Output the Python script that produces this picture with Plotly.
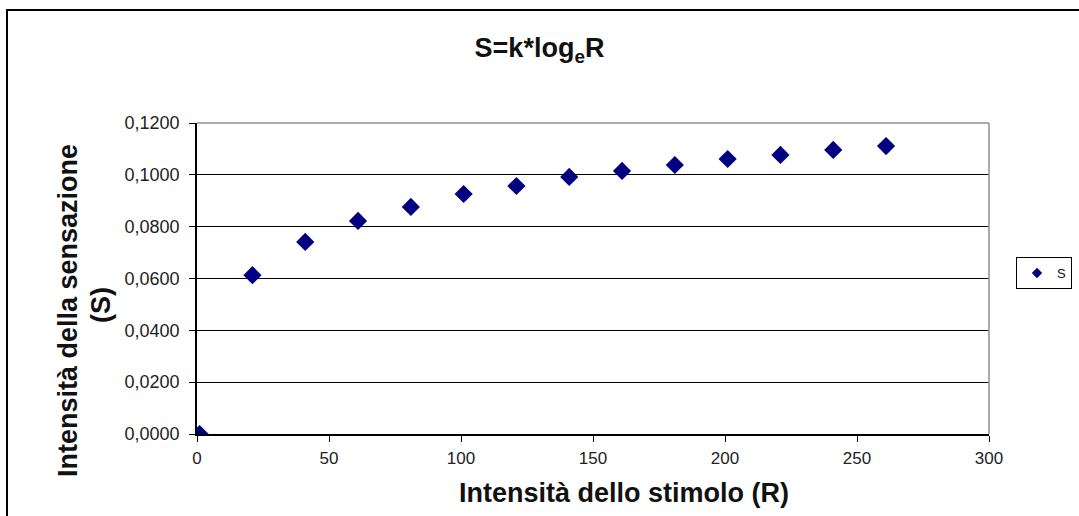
import plotly.graph_objects as go

R_values = [1, 21, 41, 61, 81, 101, 121, 141, 161, 181, 201, 221, 241, 261]
S_values = [0.0000, 0.0613, 0.0741, 0.0822, 0.0876, 0.0926, 0.0957, 0.0992,
            0.1015, 0.1038, 0.1061, 0.1077, 0.1096, 0.1111]
series_name = "S"
title_text = "S=k*log<sub>e</sub>R"
x_title = "Intensità dello stimolo (R)"
y_title_line1 = "Intensità della sensazione"
y_title_line2 = "(S)"
x_ticks = [0, 50, 100, 150, 200, 250, 300]
y_ticks = [0.0, 0.02, 0.04, 0.06, 0.08, 0.10, 0.12]

FONT = "Liberation Sans, Arial, sans-serif"
NAVY = "#000080"

fig = go.Figure()
fig.add_trace(go.Scatter(
    x=R_values, y=S_values, mode="markers", name=series_name,
    showlegend=False,
    marker=dict(symbol="diamond", size=14, color=NAVY, line=dict(width=0)),
))
# legend entry with a small marker, like the reference
fig.add_trace(go.Scatter(
    x=[None], y=[None], mode="markers", name=series_name, showlegend=True,
    marker=dict(symbol="diamond", size=8, color=NAVY, line=dict(width=0)),
))

fig.update_layout(
    width=1079, height=516,
    margin=dict(l=197, r=90, t=123, b=82, autoexpand=False),
    paper_bgcolor="white", plot_bgcolor="white",
    separators=",.",
    font=dict(family=FONT, color="#111111", size=14),
    title=dict(text=title_text, x=0.5, xref="container", xanchor="center",
               y=1 - 48 / 516, yref="container", yanchor="middle",
               font=dict(family=FONT, size=27, color="#111111", weight="bold")),
    showlegend=True,
    legend=dict(x=(1016 - 197) / 792, xanchor="left",
                y=(434 - 273) / 311, yanchor="middle",
                bordercolor="#000000", borderwidth=1,
                font=dict(size=13, family=FONT, color="#111111"),
                itemwidth=30, tracegroupgap=0),
    xaxis=dict(range=[0, 300], tickvals=x_ticks, ticks="outside", ticklen=6,
               tickcolor="#000000", showline=True, linecolor="#000000",
               linewidth=1.5, showgrid=False, zeroline=False,
               ticklabelstandoff=2,
               tickfont=dict(size=17, family=FONT, color="#222222")),
    yaxis=dict(range=[0, 0.12], tickvals=y_ticks, tickformat=".4f",
               ticks="outside", ticklen=6, tickcolor="#000000",
               showline=True, linecolor="#000000", linewidth=1.5,
               showgrid=True, gridcolor="#000000", gridwidth=1.2,
               zeroline=False, ticklabelstandoff=6,
               tickfont=dict(size=18, family=FONT, color="#222222")),
)

# gray top/right plot border
fig.add_shape(type="line", xref="paper", yref="paper", x0=0, x1=1, y0=1, y1=1,
              line=dict(color="#909090", width=1.5), layer="above")
fig.add_shape(type="line", xref="paper", yref="paper", x0=1, x1=1, y0=0, y1=1,
              line=dict(color="#909090", width=1.5), layer="above")

# outer chart frame
fig.add_shape(type="rect", xref="paper", yref="paper",
              x0=(7 - 197) / 792, x1=1.3, y0=(434 - 560) / 311,
              y1=1 + (123 - 10) / 311,
              line=dict(color="#000000", width=2), layer="below")

# axis titles
fig.add_annotation(text=x_title, xref="paper", yref="paper",
                   x=(624 - 197) / 792, y=(434 - 493) / 311,
                   showarrow=False, xanchor="center", yanchor="middle",
                   font=dict(size=27, family=FONT, color="#111111", weight="bold"))
fig.add_annotation(text=y_title_line1, xref="paper", yref="paper",
                   x=(68 - 197) / 792, y=(434 - 311) / 311, textangle=-90,
                   showarrow=False, xanchor="center", yanchor="middle",
                   font=dict(size=27, family=FONT, color="#111111", weight="bold"))
fig.add_annotation(text=y_title_line2, xref="paper", yref="paper",
                   x=(101 - 197) / 792, y=(434 - 305) / 311, textangle=-90,
                   showarrow=False, xanchor="center", yanchor="middle",
                   font=dict(size=27, family=FONT, color="#111111", weight="bold"))

fig.write_html("out.html",
               config={"displayModeBar": False},
               post_script="document.body.style.margin='0';"
                           "document.body.style.overflow='hidden';")
